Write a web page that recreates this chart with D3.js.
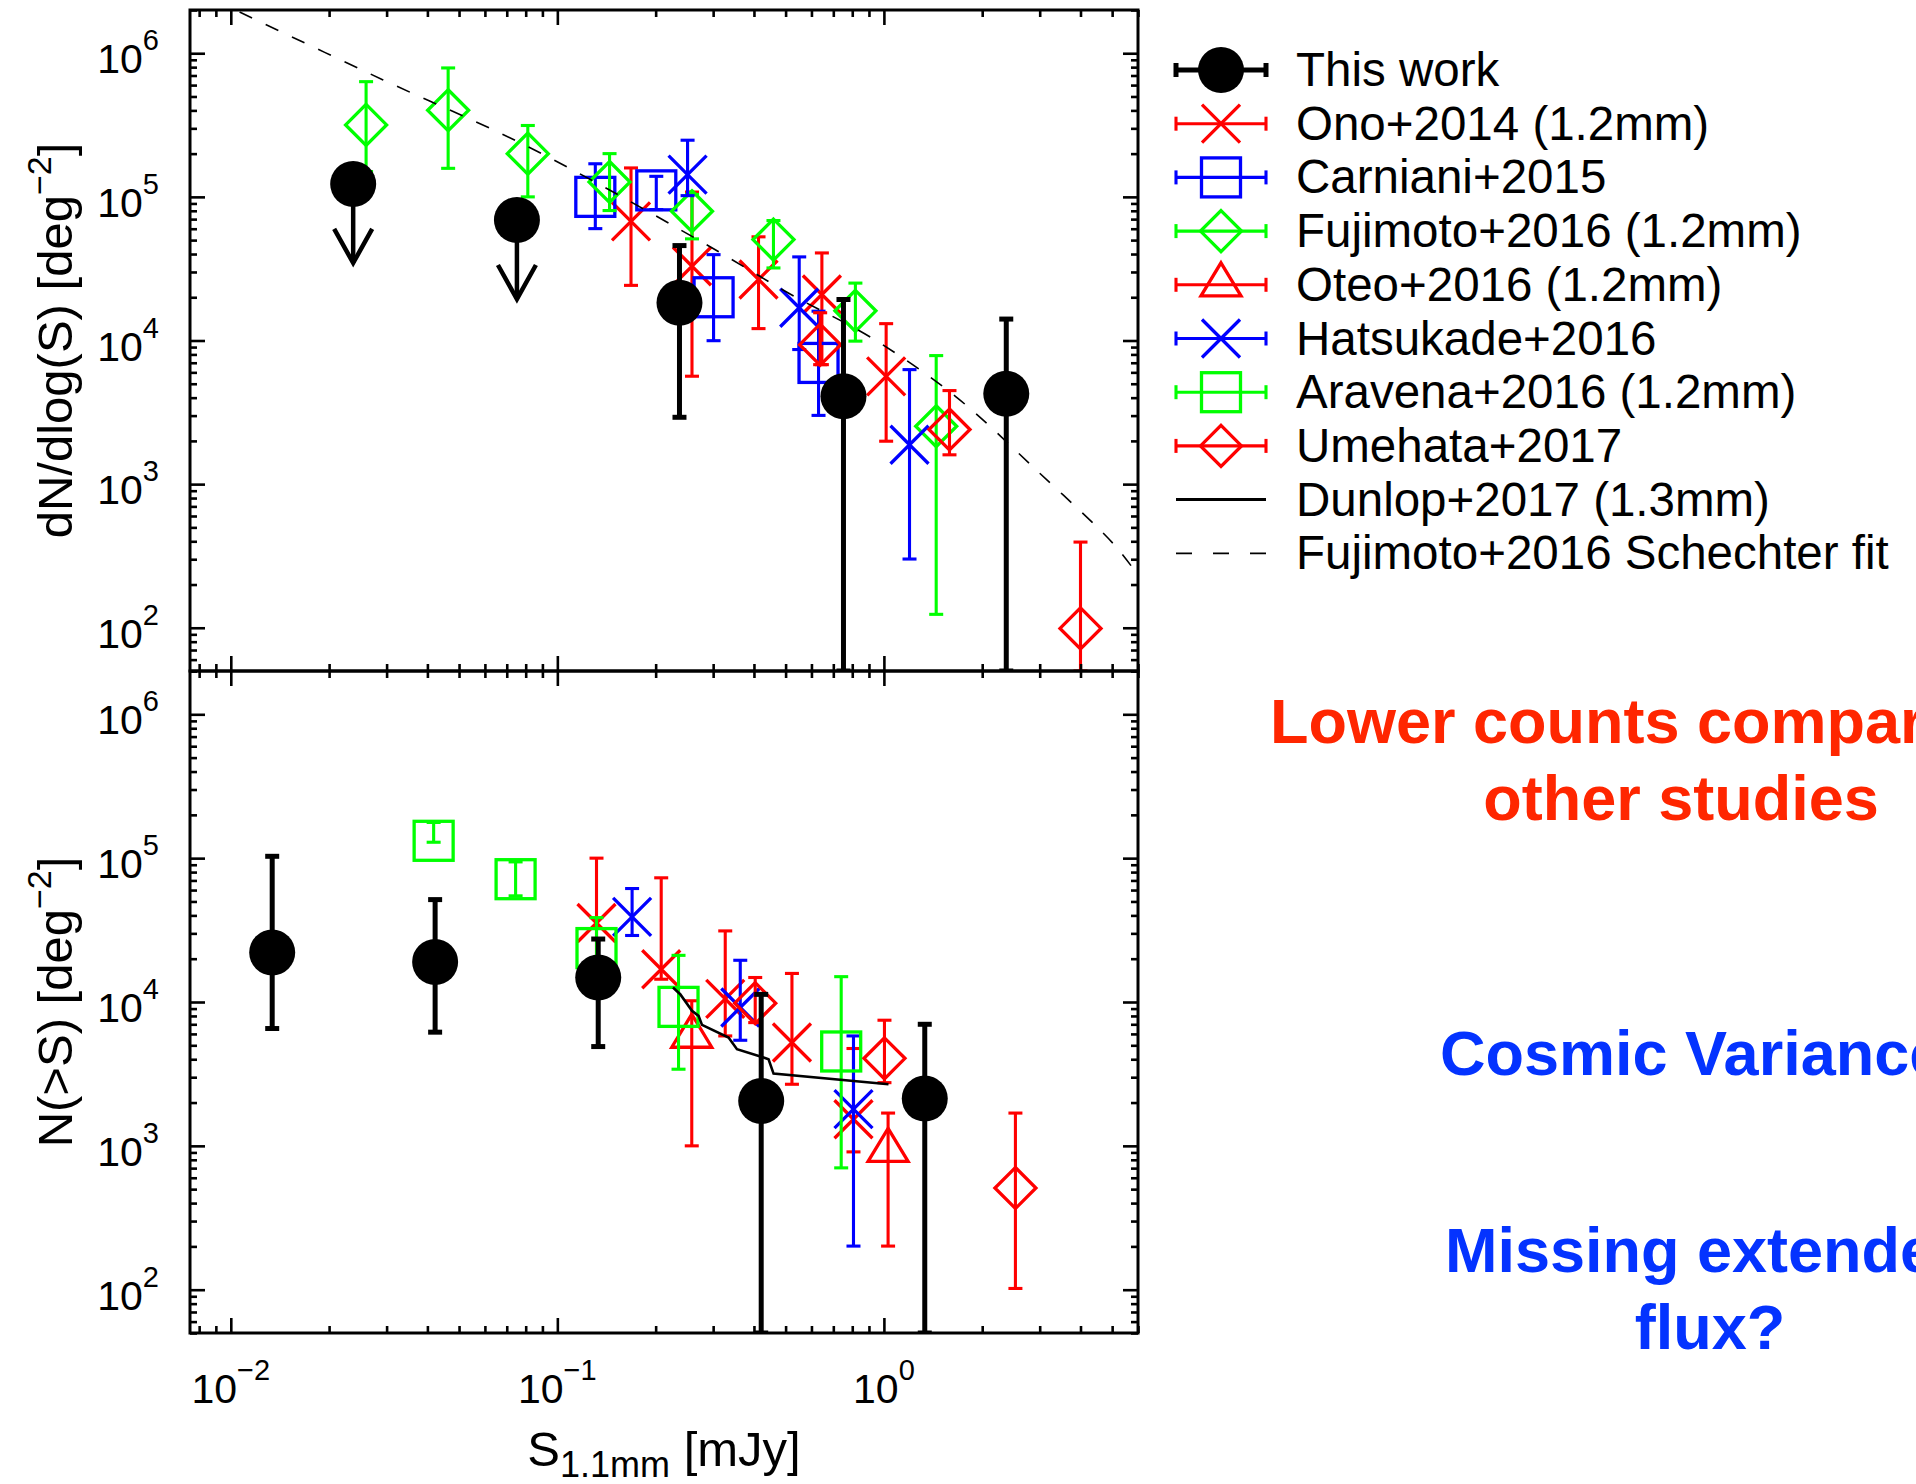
<!DOCTYPE html>
<html><head><meta charset="utf-8">
<script src="https://cdn.jsdelivr.net/npm/d3@7"></script>
<style>body{margin:0;background:#fff} svg{display:block}</style>
</head><body>
<svg id="c" width="1916" height="1484"></svg>
<script>
// ---------------- DATA ----------------
// tick labels
const xTickValues = [0.01, 0.1, 1];
const xTickExponents = ["\u22122", "\u22121", "0"];
const yTickValues = [1e2, 1e3, 1e4, 1e5, 1e6];
const yTickExponents = ["2", "3", "4", "5", "6"];

// Top panel: differential counts  [S (mJy), dN/dlogS, lower, upper]  (lower 0 = to axis)
const thisWorkDiff = [[0.2366, 1.83e4, 2.92e3, 4.58e4], [0.752, 4.09e3, 0, 1.93e4], [2.37, 4.26e3, 0, 1.41e4]];
const thisWorkDiffLimits = [[0.0237, 1.23e5], [0.0752, 6.9e4]];
const onoDiff = [[0.1681, 6.76e4, 2.42e4, 1.59e5], [0.2584, 3.29e4, 5.64e3, 1.08e5], [0.4131, 2.66e4, 1.21e4, 5.27e4], [0.6458, 2.09e4, 6.79e3, 4.07e4], [1.016, 5.63e3, 1.99e3, 1.31e4]];
const carnianiDiff = [[0.1307, 1.0e5, 6.01e4, 1.70e5], [0.2009, 1.11e5, 8.16e4, 1.39e5], [0.3009, 2.0e4, 9.97e3, 3.96e4], [0.6307, 6.98e3, 3.01e3, 1.60e4]];
const fujimotoDiff = [[0.02596, 3.17e5, 1.5e5, 6.34e5], [0.0463, 4.01e5, 1.58e5, 7.9e5], [0.0812, 2.0e5, 1.0e5, 3.14e5], [0.1445, 1.27e5, 8.03e4, 2.0e5], [0.2584, 7.94e4, 5.1e4, 1.04e5], [0.459, 5.04e4, 3.2e4, 6.84e4], [0.818, 1.61e4, 9.9e3, 2.51e4], [1.446, 2.53e3, 124, 7.85e3]];
const hatsukadeDiff = [[0.2505, 1.43e5, 1.02e5, 2.48e5], [0.5504, 1.69e4, 8.65e3, 3.82e4], [1.198, 1.88e3, 301, 6.27e3]];
const umehataDiff = [[0.638, 9.36e3, 6.79e3, 1.56e4], [1.588, 2.40e3, 1.60e3, 4.48e3], [4.0, 99, 0, 395]];
const schechterS = [0.01064, 0.02927, 0.0815, 0.272, 0.5176, 0.928, 1.663, 2.99, 5.06, 6.01];
const schechterN = [1.936e6, 6.52e5, 2.23e5, 4.97e4, 2.10e4, 1.026e4, 4.05e3, 1.20e3, 381, 231];

// Bottom panel: cumulative counts [S (mJy), N(>S), lower, upper]
const thisWorkCum = [[0.01339, 2.21e4, 6.54e3, 1.03e5], [0.04224, 1.90e4, 6.17e3, 5.15e4], [0.1334, 1.48e4, 4.9e3, 2.74e4], [0.421, 2.05e3, 0, 1.13e4], [1.334, 2.13e3, 0, 7.0e3]];
const onoCum = [[0.1318, 3.54e4, 1.8e4, 1.0e5], [0.208, 1.69e4, 1.44e4, 7.3e4], [0.3267, 1.05e4, 5.81e3, 3.12e4], [0.5229, 5.23e3, 2.68e3, 1.58e4], [0.807, 1.53e3, 908, 4.75e3]];
const oteoCum = [[0.258, 5.78e3, 1.0e3, 1.02e4], [1.03, 931, 201, 1.69e3]];
const hatsukadeCum = [[0.1694, 3.91e4, 2.9e4, 6.15e4], [0.3632, 9.16e3, 5.42e3, 1.95e4], [0.807, 1.80e3, 201, 5.81e3]];
const aravenaCum = [[0.0418, 1.32e5, 1.29e5, 1.77e5], [0.0745, 7.14e4, 5.47e4, 9.42e4], [0.1318, 2.37e4, 1.6e4, 3.86e4], [0.235, 9.25e3, 3.41e3, 2.11e4], [0.740, 4.53e3, 703, 1.50e4]];
const umehataCum = [[0.4036, 9.81e3, 7.19e3, 1.48e4], [1.004, 4.06e3, 2.75e3, 7.47e3], [2.528, 509, 102, 1.69e3]];
const dunlopS = [0.2260, 0.2378, 0.2584, 0.2707, 0.2773, 0.3344, 0.3549, 0.4281, 0.4434, 0.4593, 1.033];
const dunlopN = [1.261e4, 1.133e4, 8.68e3, 8.01e3, 6.93e3, 5.66e3, 4.70e3, 4.11e3, 4.00e3, 3.18e3, 2.68e3];

const legendLabels = ["This work", "Ono+2014 (1.2mm)", "Carniani+2015", "Fujimoto+2016 (1.2mm)", "Oteo+2016 (1.2mm)", "Hatsukade+2016", "Aravena+2016 (1.2mm)", "Umehata+2017", "Dunlop+2017 (1.3mm)", "Fujimoto+2016 Schechter fit"];
const noteLines = ["Lower counts compared to", "other studies", "Cosmic Variance", "Missing extended", "flux?"];

// ---------------- LAYOUT ----------------
const FONT = '"Liberation Sans", Arial, Helvetica, sans-serif';
const RED = "#ff0000", BLUE = "#0000ff", GREEN = "#00ff00", BLACK = "#000000";
const plotL = 190, plotR = 1138, topT = 10, midY = 671, botB = 1333;

const svg = d3.select("#c");
const x = d3.scaleLog().domain([0.0075, 6.0]).range([plotL, plotR]);
const yTop = d3.scaleLog().domain([50, 2e6]).range([midY, topT]);
const yBot = d3.scaleLog().domain([50, 2e6]).range([botB, midY]);

const defs = svg.append("defs");
function clip(id, y0, y1) {
  defs.append("clipPath").attr("id", id).append("rect")
    .attr("x", plotL).attr("y", y0).attr("width", plotR - plotL).attr("height", y1 - y0);
}
clip("clipTop", topT, midY);
clip("clipBot", midY, botB);

// -------- markers --------
const markers = {
  circle: (g, cx, cy, c) => g.append("circle").attr("cx", cx).attr("cy", cy).attr("r", 23).attr("fill", c),
  cross: (g, cx, cy, c) => {
    const p = d3.path(); const s = 19;
    p.moveTo(cx - s, cy - s); p.lineTo(cx + s, cy + s); p.moveTo(cx - s, cy + s); p.lineTo(cx + s, cy - s);
    g.append("path").attr("d", p.toString()).attr("stroke", c).attr("stroke-width", 3.3).attr("fill", "none");
  },
  square: (g, cx, cy, c) => g.append("rect").attr("x", cx - 19.5).attr("y", cy - 19.5).attr("width", 39).attr("height", 39)
    .attr("fill", "none").attr("stroke", c).attr("stroke-width", 3.3),
  diamond: (g, cx, cy, c) => {
    const p = d3.path(); const s = 20.5;
    p.moveTo(cx, cy - s); p.lineTo(cx + s, cy); p.lineTo(cx, cy + s); p.lineTo(cx - s, cy); p.closePath();
    g.append("path").attr("d", p.toString()).attr("fill", "none").attr("stroke", c).attr("stroke-width", 3.3);
  },
  triangle: (g, cx, cy, c) => {
    const p = d3.path();
    p.moveTo(cx, cy - 22); p.lineTo(cx + 20, cy + 11); p.lineTo(cx - 20, cy + 11); p.closePath();
    g.append("path").attr("d", p.toString()).attr("fill", "none").attr("stroke", c).attr("stroke-width", 3.3);
  }
};

function drawSeries(g, ys, data, color, marker, lw) {
  lw = lw || 3.1;
  const bottom = ys.range()[0];
  data.forEach(d => {
    const cx = x(d[0]), cy = ys(d[1]);
    const yLo = d[2] > 0 ? ys(d[2]) : bottom;
    const yHi = ys(d[3]);
    g.append("line").attr("x1", cx).attr("x2", cx).attr("y1", yLo).attr("y2", yHi)
      .attr("stroke", color).attr("stroke-width", lw);
    [yLo, yHi].forEach(yy => g.append("line").attr("x1", cx - 7).attr("x2", cx + 7).attr("y1", yy).attr("y2", yy)
      .attr("stroke", color).attr("stroke-width", lw));
    markers[marker](g, cx, cy, color);
  });
}

function drawLimits(g, ys, data) {
  data.forEach(d => {
    const cx = x(d[0]), cy = ys(d[1]);
    const tip = cy + 79;
    g.append("line").attr("x1", cx).attr("x2", cx).attr("y1", cy).attr("y2", tip)
      .attr("stroke", BLACK).attr("stroke-width", 4.5);
    const p = d3.path();
    p.moveTo(cx - 19, tip - 34); p.lineTo(cx, tip); p.lineTo(cx + 19, tip - 34);
    g.append("path").attr("d", p.toString()).attr("fill", "none").attr("stroke", BLACK).attr("stroke-width", 4.5);
    markers.circle(g, cx, cy, BLACK);
  });
}

// -------- top panel --------
const gTop = svg.append("g").attr("clip-path", "url(#clipTop)");
drawSeries(gTop, yTop, onoDiff, RED, "cross");
drawSeries(gTop, yTop, carnianiDiff, BLUE, "square");
drawSeries(gTop, yTop, fujimotoDiff, GREEN, "diamond");
drawSeries(gTop, yTop, hatsukadeDiff, BLUE, "cross");
drawSeries(gTop, yTop, umehataDiff, RED, "diamond");
gTop.append("path")
  .attr("d", d3.line().x(d => x(d[0])).y(d => yTop(d[1])).curve(d3.curveCatmullRom)(schechterS.map((s, i) => [s, schechterN[i]])))
  .attr("fill", "none").attr("stroke", BLACK).attr("stroke-width", 1.6).attr("stroke-dasharray", "14,15");
drawSeries(gTop, yTop, thisWorkDiff, BLACK, "circle", 5);
drawLimits(gTop, yTop, thisWorkDiffLimits);

// -------- bottom panel --------
const gBot = svg.append("g").attr("clip-path", "url(#clipBot)");
drawSeries(gBot, yBot, onoCum, RED, "cross");
drawSeries(gBot, yBot, oteoCum, RED, "triangle");
drawSeries(gBot, yBot, hatsukadeCum, BLUE, "cross");
drawSeries(gBot, yBot, aravenaCum, GREEN, "square");
drawSeries(gBot, yBot, umehataCum, RED, "diamond");
gBot.append("path")
  .attr("d", d3.line().x(d => x(d[0])).y(d => yBot(d[1]))(dunlopS.map((s, i) => [s, dunlopN[i]])))
  .attr("fill", "none").attr("stroke", BLACK).attr("stroke-width", 2.6);
drawSeries(gBot, yBot, thisWorkCum, BLACK, "circle", 5);

// -------- axes --------
const isMajor = v => Math.abs(Math.log10(v) - Math.round(Math.log10(v))) < 1e-6;
const xAll = x.ticks(), xMaj = xAll.filter(isMajor), xMin = xAll.filter(v => !isMajor(v));
const yAll = yTop.ticks(), yMaj = yAll.filter(isMajor), yMin = yAll.filter(v => !isMajor(v));

function axisGroup(axis, tx, ty) {
  const g = svg.append("g").attr("transform", `translate(${tx},${ty})`).call(axis);
  g.select(".domain").remove();
  g.selectAll("line").attr("stroke", BLACK).attr("stroke-width", 2.6);
  g.selectAll("text").remove();
}
[[yTop, topT, midY], [yBot, midY, botB]].forEach(([ys, t, b]) => {
  axisGroup(d3.axisBottom(x).tickValues(xMaj).tickSize(-15).tickFormat(""), 0, b);
  axisGroup(d3.axisBottom(x).tickValues(xMin).tickSize(-7).tickFormat(""), 0, b);
  axisGroup(d3.axisTop(x).tickValues(xMaj).tickSize(-15).tickFormat(""), 0, t);
  axisGroup(d3.axisTop(x).tickValues(xMin).tickSize(-7).tickFormat(""), 0, t);
  axisGroup(d3.axisLeft(ys).tickValues(yMaj).tickSize(-15).tickFormat(""), plotL, 0);
  axisGroup(d3.axisLeft(ys).tickValues(yMin).tickSize(-7).tickFormat(""), plotL, 0);
  axisGroup(d3.axisRight(ys).tickValues(yMaj).tickSize(-15).tickFormat(""), plotR, 0);
  axisGroup(d3.axisRight(ys).tickValues(yMin).tickSize(-7).tickFormat(""), plotR, 0);
  svg.append("rect").attr("x", plotL).attr("y", t).attr("width", plotR - plotL).attr("height", b - t)
    .attr("fill", "none").attr("stroke", BLACK).attr("stroke-width", 3);
  yTickValues.forEach((v, i) => {
    const tx = svg.append("text").attr("x", 159).attr("y", ys(v) + 20).attr("text-anchor", "end")
      .attr("font-family", FONT).attr("font-size", 41).attr("fill", BLACK);
    tx.append("tspan").text("10");
    tx.append("tspan").attr("dy", -23).attr("font-size", 29).text(yTickExponents[i]);
  });
});

// x tick labels
xTickValues.forEach((v, i) => {
  const tx = svg.append("text").attr("x", x(v)).attr("y", 1403).attr("text-anchor", "middle")
    .attr("font-family", FONT).attr("font-size", 41).attr("fill", BLACK);
  tx.append("tspan").text("10");
  tx.append("tspan").attr("dy", -23).attr("font-size", 29).text(xTickExponents[i]);
});

// axis titles
function yTitle(cy, main) {
  const t = svg.append("text").attr("transform", `translate(72,${cy}) rotate(-90)`).attr("text-anchor", "middle")
    .attr("font-family", FONT).attr("font-size", 49).attr("fill", BLACK);
  t.append("tspan").text(main + " [deg");
  t.append("tspan").attr("dy", -21).attr("font-size", 34).text("\u22122");
  t.append("tspan").attr("dy", 21).text("]");
}
yTitle((topT + midY) / 2, "dN/dlog(S)");
yTitle((midY + botB) / 2, "N(>S)");
{
  const t = svg.append("text").attr("x", (plotL + plotR) / 2).attr("y", 1466).attr("text-anchor", "middle")
    .attr("font-family", FONT).attr("font-size", 49).attr("fill", BLACK);
  t.append("tspan").text("S");
  t.append("tspan").attr("dy", 11).attr("font-size", 36).text("1.1mm");
  t.append("tspan").attr("dy", -11).text(" [mJy]");
}

// -------- legend --------
const legendStyle = [
  {c: BLACK, m: "circle", lw: 5}, {c: RED, m: "cross"}, {c: BLUE, m: "square"}, {c: GREEN, m: "diamond"},
  {c: RED, m: "triangle"}, {c: BLUE, m: "cross"}, {c: GREEN, m: "square"}, {c: RED, m: "diamond"},
  {c: BLACK, m: "line"}, {c: BLACK, m: "dash"}
];
const lg = svg.append("g");
legendLabels.forEach((lab, i) => {
  const cy = 70 + i * 53.7, st = legendStyle[i];
  const x0 = 1176, x1 = 1266, xm = 1221;
  if (st.m === "line") {
    lg.append("line").attr("x1", x0).attr("x2", x1).attr("y1", cy).attr("y2", cy).attr("stroke", BLACK).attr("stroke-width", 3);
  } else if (st.m === "dash") {
    lg.append("line").attr("x1", x0).attr("x2", x1).attr("y1", cy).attr("y2", cy).attr("stroke", BLACK)
      .attr("stroke-width", 1.8).attr("stroke-dasharray", "16,21");
  } else {
    const lw = st.lw || 3.1;
    lg.append("line").attr("x1", x0).attr("x2", x1).attr("y1", cy).attr("y2", cy).attr("stroke", st.c).attr("stroke-width", lw);
    [x0, x1].forEach(xx => lg.append("line").attr("x1", xx).attr("x2", xx).attr("y1", cy - 7).attr("y2", cy + 7)
      .attr("stroke", st.c).attr("stroke-width", lw));
    markers[st.m](lg, xm, cy, st.c);
  }
  lg.append("text").attr("x", 1296).attr("y", cy + 16).attr("font-family", FONT).attr("font-size", 47.5)
    .attr("fill", BLACK).text(lab);
});

// -------- annotations --------
const NRED = "#ff2600", NBLUE = "#0433ff";
function note(txt, xx, yy, anchor, col) {
  svg.append("text").attr("x", xx).attr("y", yy).attr("text-anchor", anchor).attr("font-family", FONT)
    .attr("font-weight", "bold").attr("font-size", 63).attr("fill", col).text(txt);
}
note(noteLines[0], 1270, 743, "start", NRED);
note(noteLines[1], 1681, 820, "middle", NRED);
note(noteLines[2], 1440, 1075, "start", NBLUE);
note(noteLines[3], 1445, 1272, "start", NBLUE);
note(noteLines[4], 1710, 1349, "middle", NBLUE);
</script>
</body></html>
